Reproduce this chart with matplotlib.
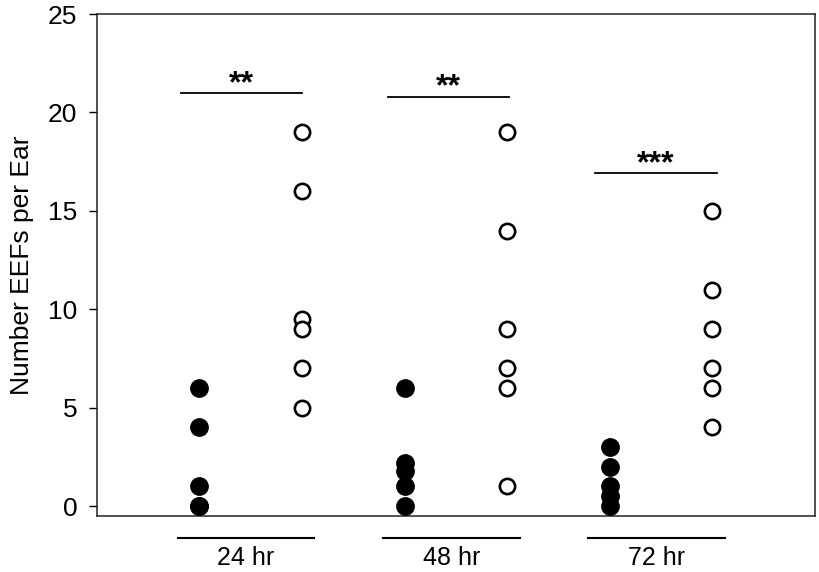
import matplotlib.pyplot as plt
import matplotlib.transforms as mtransforms

plt.rcParams['font.family'] = ['Liberation Sans', 'DejaVu Sans']

# data
groups = ["24 hr", "48 hr", "72 hr"]
filled_x = [1, 3, 5]
open_x = [2, 4, 6]
filled_vals = [
    [6, 4, 1, 0, 0],
    [6, 2.2, 1.8, 1, 0],
    [3, 2, 1, 0.5, 0],
]
open_vals = [
    [19, 16, 9.5, 9, 7, 5],
    [19, 14, 9, 7, 6, 1],
    [15, 11, 9, 7, 6, 4],
]
sig_height = [21, 20.8, 16.9]
sig_labels = ["**", "**", "***"]

fig = plt.figure(figsize=(8.2, 5.72), dpi=100)
ax = fig.add_axes([0.118, 0.098, 0.876, 0.8775])

for i in range(len(groups)):
    ax.plot([filled_x[i]] * len(filled_vals[i]), filled_vals[i], "o",
            color="black", markersize=12.5, linestyle="none", clip_on=False, zorder=3)
    ax.plot([open_x[i]] * len(open_vals[i]), open_vals[i], "o",
            markerfacecolor="white", markeredgecolor="black", markersize=11,
            markeredgewidth=1.9, linestyle="none", clip_on=False, zorder=3)

    # significance bar
    x0 = filled_x[i] - 0.18 + 0.02 * i
    x1 = open_x[i] + 0.02 * i
    ax.plot([x0, x1], [sig_height[i]] * 2, color="black", lw=1.3)
    ax.text((x0 + x1) / 2, sig_height[i] + 0.05, sig_labels[i], ha="center",
            va="baseline", fontsize=23, fontweight="bold")

# group lines and labels under the axis
trans = mtransforms.blended_transform_factory(ax.transData, ax.transAxes)
for i, g in enumerate(groups):
    a = filled_x[i] - 0.21
    b = open_x[i] + 0.12
    ax.plot([a, b], [-0.044, -0.044], color="black", lw=1.5,
            transform=trans, clip_on=False)
    ax.text((a + b) / 2, -0.084, g, ha="center", va="center",
            fontsize=18, transform=trans)

ax.set_xlim(0, 7)
ax.set_ylim(-0.5, 25)
ax.set_xticks([])
ax.set_yticks([0, 5, 10, 15, 20, 25])
ax.tick_params(axis="y", direction="out", length=6, width=1, labelsize=19, pad=8)
ax.set_ylabel("Number EEFs per Ear", fontsize=19, labelpad=10)
for s in ax.spines.values():
    s.set_linewidth(1.1)
    s.set_color("#222222")

fig.savefig("out.png", dpi=100)
